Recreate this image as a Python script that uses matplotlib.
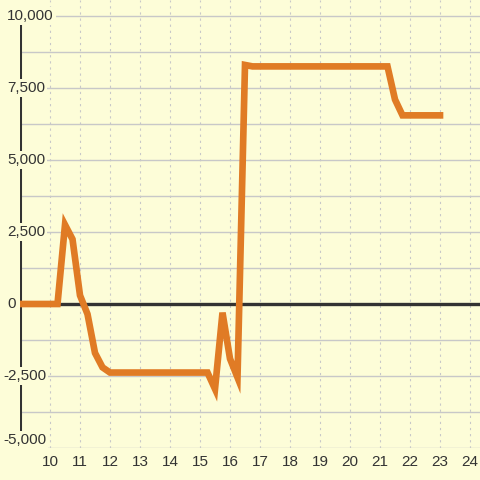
import matplotlib
matplotlib.use("Agg")
import matplotlib.pyplot as plt
from matplotlib.ticker import FixedLocator

BG = "#fdfdd8"
LINE = "#e07b25"
DARK = "#333333"
GRID = "#c8c8c8"

# breakpoints of the series (hour of day, value)
hours = [9, 10.25, 10.5, 10.75, 11, 11.25, 11.5, 11.75, 12, 15.25, 15.5,
         15.75, 16, 16.25, 16.5, 16.75, 21.25, 21.5, 21.75, 23]
values = [0, 0, 2750, 2250, 300, -350, -1700, -2200, -2380, -2380, -2950,
          -300, -1900, -2550, 8300, 8250, 8250, 7100, 6550, 6550]

x_ticks = list(range(10, 25))
y_ticks = [-5000, -2500, 0, 2500, 5000, 7500, 10000]
y_grid = [-5000 + 1250 * i for i in range(13)]

plt.rcParams["font.family"] = ["Liberation Sans", "DejaVu Sans"]

fig = plt.figure(figsize=(4.8, 4.8), dpi=100, facecolor=BG)
ax = fig.add_axes([20 / 480, 32 / 480, 460 / 480, 448 / 480])
ax.set_facecolor(BG)
ax.set_xlim(9, 9 + 460 / 30)
ax.set_ylim(-5000, 10000 + 16 * 15000 / 432)

for s in ax.spines.values():
    s.set_visible(False)

# grid
for v in y_grid:
    ax.axhline(v, color=GRID, lw=1.0, zorder=1)
for h in x_ticks:
    ax.axvline(h, color=GRID, lw=0.8, dashes=(2, 3.5), zorder=1)

# left axis line and zero line
ax.plot([9, 9], [-5000, 10000], color=DARK, lw=2.2, zorder=2,
        solid_capstyle="butt")
ax.axhline(0, color=DARK, lw=2.4, zorder=2)

ax.plot(hours, values, color=LINE, lw=4.8, zorder=3,
        solid_capstyle="projecting", solid_joinstyle="miter")

# x ticks
ax.xaxis.set_major_locator(FixedLocator(x_ticks))
ax.set_xticklabels([str(h) for h in x_ticks])
ax.tick_params(axis="x", length=0, pad=5, labelsize=11, labelcolor=DARK)
ax.set_yticks([])

# y labels drawn inside, over the axis line
ytr = ax.get_yaxis_transform()
for v in y_ticks:
    xpos = (7 - 20) / 460 if v >= 0 else (3 - 20) / 460
    va = "center"
    yv = v
    if v == y_ticks[0]:
        va = "bottom"
        yv = v + 1 * 15000 / 432
    ax.text(xpos, yv, f"{v:,}", transform=ytr, ha="left", va=va,
            fontsize=11, color=DARK, zorder=5, clip_on=False,
            bbox=dict(boxstyle="square,pad=0.15", facecolor=BG,
                      edgecolor="none"))

fig.savefig("out.png", dpi=100, facecolor=BG)
